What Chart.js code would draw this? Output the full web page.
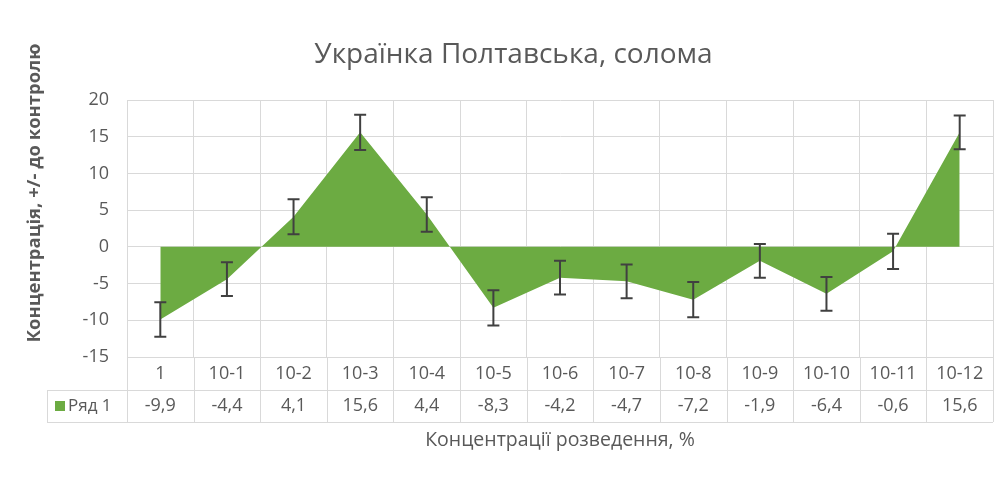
<!DOCTYPE html>
<html>
<head>
<meta charset="utf-8">
<script src="https://cdn.jsdelivr.net/npm/chart.js@4"></script>
<style>
  body { margin: 0; background: #fff; }
  canvas { display: block; }
</style>
</head>
<body>
<canvas id="chart" width="1006" height="478"></canvas>
<script>
// data
var categories = ["1", "10-1", "10-2", "10-3", "10-4", "10-5", "10-6", "10-7", "10-8", "10-9", "10-10", "10-11", "10-12"];
var series1 = [-9.9, -4.4, 4.1, 15.6, 4.4, -8.3, -4.2, -4.7, -7.2, -1.9, -6.4, -0.6, 15.6];
var errors1 = [2.35, 2.3, 2.4, 2.4, 2.35, 2.4, 2.3, 2.3, 2.4, 2.3, 2.3, 2.4, 2.3];
var seriesName = "Ряд 1";
var yTicks = [-15, -10, -5, 0, 5, 10, 15, 20];

var GREEN = "#6CAB42";
var GRID = "#D9D9D9";
var TEXT = "#595959";
var FONT = "'Open Sans', 'Liberation Sans', sans-serif";

function fmt(v) {
    return v.toFixed(1).replace(".", ",");
}

// error bars drawn on top of the area
var errorBars = {
    id: "errorBars",
    afterDatasetsDraw: function(chart) {
        var ctx = chart.ctx, x = chart.scales.x, y = chart.scales.y;
        ctx.save();
        ctx.strokeStyle = "#404040";
        ctx.lineWidth = 2;
        series1.forEach(function(v, i) {
            var px = x.getPixelForValue(i);
            var top = y.getPixelForValue(v + errors1[i]);
            var bot = y.getPixelForValue(v - errors1[i]);
            ctx.beginPath();
            ctx.moveTo(px, top); ctx.lineTo(px, bot);
            ctx.moveTo(px - 6, top); ctx.lineTo(px + 6, top);
            ctx.moveTo(px - 6, bot); ctx.lineTo(px + 6, bot);
            ctx.stroke();
        });
        ctx.restore();
    }
};

// data table under the plot + y axis title
var dataTable = {
    id: "dataTable",
    afterDraw: function(chart) {
        var ctx = chart.ctx, x = chart.scales.x, area = chart.chartArea;
        var rowTop = area.bottom, rowMid = area.bottom + 33, rowBot = area.bottom + 65;
        var legLeft = 47;
        ctx.save();
        ctx.strokeStyle = GRID;
        ctx.lineWidth = 1;
        ctx.beginPath();
        for (var i = 0; i <= categories.length; i++) {
            var bx = Math.round(area.left + (area.right - area.left) * i / categories.length) + 0.5;
            ctx.moveTo(bx, rowTop); ctx.lineTo(bx, rowBot);
        }
        ctx.moveTo(legLeft, rowMid + 0.5); ctx.lineTo(area.right, rowMid + 0.5);
        ctx.moveTo(legLeft, rowBot + 0.5); ctx.lineTo(area.right, rowBot + 0.5);
        ctx.moveTo(legLeft + 0.5, rowMid); ctx.lineTo(legLeft + 0.5, rowBot);
        ctx.stroke();

        ctx.fillStyle = TEXT;
        ctx.font = "18px " + FONT;
        ctx.textAlign = "center";
        ctx.textBaseline = "middle";
        var cy = (rowMid + rowBot) / 2;
        series1.forEach(function(v, i) {
            ctx.fillText(fmt(v), x.getPixelForValue(i), cy);
        });
        // legend key
        ctx.fillStyle = GREEN;
        ctx.fillRect(55, cy - 5, 10, 10);
        ctx.fillStyle = TEXT;
        ctx.textAlign = "left";
        ctx.font = "17px " + FONT;
        ctx.fillText(seriesName, 68, cy);

        // y axis title
        ctx.translate(35, 193);
        ctx.rotate(-Math.PI / 2);
        ctx.textAlign = "center";
        ctx.font = "bold 18.5px " + FONT;
        ctx.fillText("Концентрація, +/- до контролю", 0, 0);
        ctx.restore();
    }
};

var ctx = document.getElementById("chart").getContext("2d");
var chart = new Chart(ctx, {
    type: "line",
    data: {
        labels: categories,
        datasets: [{
            label: seriesName,
            data: series1,
            backgroundColor: GREEN,
            borderColor: GREEN,
            borderWidth: 0,
            pointRadius: 0,
            fill: "origin",
            tension: 0,
        }]
    },
    options: {
        responsive: false,
        animation: false,
        layout: { padding: { left: 34, right: 13, top: 0, bottom: 0 } },
        plugins: {
            legend: { display: false },
            tooltip: { enabled: false },
            title: {
                display: true,
                text: "Українка Полтавська, солома",
                color: TEXT,
                font: { family: FONT, size: 28, weight: "normal", lineHeight: 1.2 },
                padding: { top: 38, bottom: 28.4 },
            },
        },
        scales: {
            x: {
                offset: true,
                grid: { offset: true, color: GRID, drawTicks: false },
                border: { color: GRID },
                ticks: { color: TEXT, font: { family: FONT, size: 18 }, padding: 6, maxRotation: 0, autoSkip: false },
                title: {
                    display: true,
                    text: "Концентрації розведення, %",
                    color: TEXT,
                    font: { family: FONT, size: 19.5 },
                    padding: { top: 0, bottom: 26.3 },
                },
                afterFit: function(scale) { scale.height = 121; },
            },
            y: {
                min: -15,
                max: 20,
                afterBuildTicks: function(scale) {
                    scale.ticks = yTicks.map(function(v) { return { value: v }; });
                },
                grid: { color: GRID, drawTicks: false },
                border: { color: GRID },
                ticks: { color: TEXT, font: { family: FONT, size: 18 }, padding: 18 },
                afterFit: function(scale) { scale.width = 93; },
            }
        }
    },
    plugins: [errorBars, dataTable]
});
</script>
</body>
</html>
